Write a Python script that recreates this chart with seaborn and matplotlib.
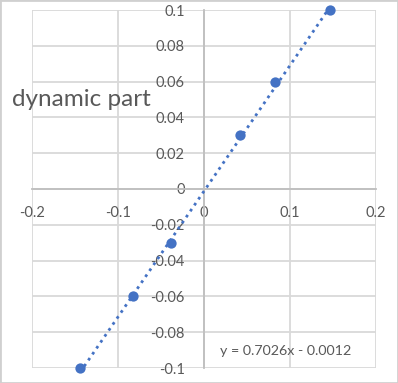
import numpy as np
import pandas as pd
import matplotlib
matplotlib.use("Agg")
import matplotlib.pyplot as plt
import seaborn as sns

# data
x_vals = [-0.144, -0.082, -0.038, 0.042, 0.083, 0.146]
y_vals = [-0.10, -0.06, -0.03, 0.03, 0.06, 0.10]
slope = 0.7026
intercept = -0.0012
x_ticks = [-0.2, -0.1, 0, 0.1, 0.2]
y_ticks = [-0.1, -0.08, -0.06, -0.04, -0.02, 0, 0.02, 0.04, 0.06, 0.08, 0.1]
x_tick_labels = ["-0.2", "-0.1", "0", "0.1", "0.2"]
y_tick_labels = ["-0.1", "-0.08", "-0.06", "-0.04", "-0.02", "0", "0.02", "0.04", "0.06", "0.08", "0.1"]
title = "dynamic part"
equation = "y = 0.7026x - 0.0012"

sns.set_style("white")
plt.rcParams['font.family'] = ['Lato', 'DejaVu Sans']

df = pd.DataFrame({"x": x_vals, "y": y_vals})

fig = plt.figure(figsize=(3.98, 3.83), dpi=100)
ax = fig.add_axes([32/398, 1-368/383, (376-32)/398, (368-10)/383])

txt_color = "#595959"
grid_color = "#d9d9d9"
blue = "#4472C4"

ax.set_xlim(-0.2, 0.2)
ax.set_ylim(-0.1, 0.1)
ax.set_xticks(x_ticks)
ax.set_yticks(y_ticks)
ax.set_xticklabels(x_tick_labels)
ax.set_yticklabels(y_tick_labels)
ax.grid(True, color=grid_color, linewidth=1.3)
ax.set_axisbelow(True)

for s in ["top", "right"]:
    ax.spines[s].set_visible(False)
ax.spines["left"].set_position(("data", 0))
ax.spines["bottom"].set_position(("data", 0))
ax.spines["left"].set_color("#bfbfbf")
ax.spines["bottom"].set_color("#bfbfbf")
ax.spines["left"].set_linewidth(1.3)
ax.spines["bottom"].set_linewidth(1.3)
ax.tick_params(axis="both", length=0, labelsize=10.5, labelcolor=txt_color)
ax.tick_params(axis="y", pad=14)
ax.tick_params(axis="x", pad=12)

# trendline
xl = np.array([min(x_vals), max(x_vals)])
ax.plot(xl, slope * xl + intercept, linestyle=(0, (1, 1.6)), color=blue, linewidth=2.0, zorder=3)
sns.scatterplot(data=df, x="x", y="y", ax=ax, color=blue, s=55, edgecolor=blue, linewidth=0, zorder=4, clip_on=False)
ax.set_xlabel("")
ax.set_ylabel("")

fig.text(12/398, 1-99/383, title, fontsize=17.5, color=txt_color, ha="left", va="center")
ax.text(0.095, -0.0903, equation, fontsize=10.3, color=txt_color, ha="center", va="center")

# figure border
fig.patches.append(matplotlib.patches.Rectangle((0, 0), 1, 1, transform=fig.transFigure,
                                                fill=False, edgecolor="#d0d0d0", linewidth=2))

fig.savefig("out.png", dpi=100)
